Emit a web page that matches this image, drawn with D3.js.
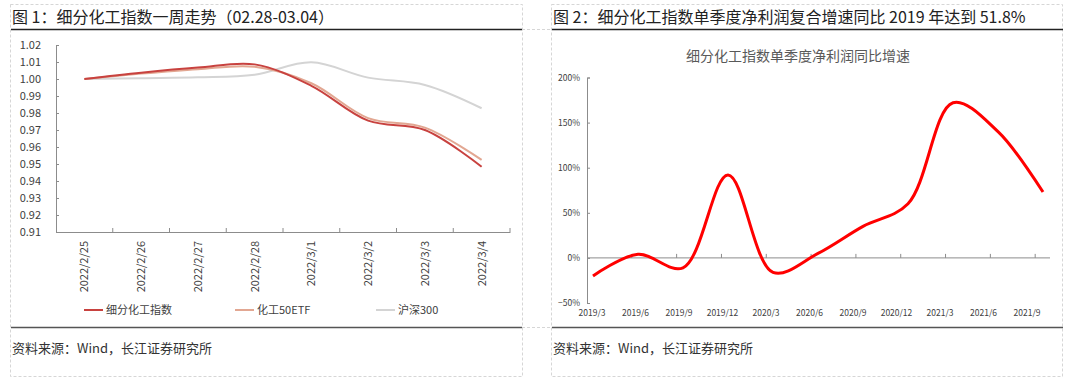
<!DOCTYPE html>
<html>
<head>
<meta charset="utf-8">
<script src="https://cdn.jsdelivr.net/npm/d3@7"></script>
<style>
  body { margin: 0; background: #fff; }
  text { font-family: "Noto Sans CJK SC", "Liberation Sans", sans-serif; }
</style>
</head>
<body>
<svg id="chart" width="1080" height="386"></svg>
<script>
// Figure 1 data
const dates = ["2022/2/25", "2022/2/26", "2022/2/27", "2022/2/28", "2022/3/1", "2022/3/2", "2022/3/3", "2022/3/4"];
const chemIndex = [1.000, 1.0037, 1.0067, 1.0086, 0.9960, 0.9755, 0.9700, 0.9484];
const chemEtf = [1.000, 1.0032, 1.0058, 1.0072, 0.9975, 0.9770, 0.9714, 0.9524];
const hs300 = [1.000, 1.0005, 1.0010, 1.0025, 1.0098, 1.0008, 0.9965, 0.9828];
const yTicks1 = [0.91, 0.92, 0.93, 0.94, 0.95, 0.96, 0.97, 0.98, 0.99, 1.00, 1.01, 1.02];
const series1 = [
  { name: "细分化工指数", values: chemIndex, color: "#C8423F" },
  { name: "化工50ETF", values: chemEtf, color: "#E2A792" },
  { name: "沪深300", values: hs300, color: "#D4D4D4" }
];

// Figure 2 data
const quarters = ["2019/3", "2019/6", "2019/9", "2019/12", "2020/3", "2020/6", "2020/9", "2020/12", "2021/3", "2021/6", "2021/9"];
const profitGrowth = [-0.20, 0.04, -0.11, 0.92, -0.16, 0.05, 0.35, 0.60, 1.72, 1.40, 0.73];
const yTicks2 = [-0.5, 0, 0.5, 1, 1.5, 2];

const svg = d3.select("#chart");
const axisColor = "#8C8C8C";

// ---- panel frames ----
const frame = svg.append("g").attr("fill", "none").attr("stroke", "#D6D6D6").attr("stroke-dasharray", "3,2");
frame.append("rect").attr("x", 10.5).attr("y", 4.5).attr("width", 512).attr("height", 372);
frame.append("rect").attr("x", 551.5).attr("y", 4.5).attr("width", 511).attr("height", 372);
frame.append("line").attr("x1", 522).attr("x2", 552).attr("y1", 29.5).attr("y2", 29.5);
frame.append("line").attr("x1", 522).attr("x2", 552).attr("y1", 327.5).attr("y2", 327.5);

[[11, 522], [552, 1063]].forEach(([a, b]) => {
  svg.append("line").attr("x1", a).attr("x2", b).attr("y1", 29.5).attr("y2", 29.5)
    .attr("stroke", "#222").attr("stroke-width", 1.3);
  svg.append("line").attr("x1", a).attr("x2", b).attr("y1", 327.5).attr("y2", 327.5)
    .attr("stroke", "#555").attr("stroke-width", 1.3);
});

svg.append("text").attr("x", 12).attr("y", 23).attr("font-size", 16).attr("fill", "#222")
  .text("图 1：细分化工指数一周走势（02.28-03.04）");
svg.append("text").attr("x", 553).attr("y", 23).attr("font-size", 16).attr("fill", "#222")
  .text("图 2：细分化工指数单季度净利润复合增速同比 2019 年达到 51.8%");
svg.append("text").attr("x", 12).attr("y", 353).attr("font-size", 13).attr("fill", "#333")
  .text("资料来源：Wind，长江证券研究所");
svg.append("text").attr("x", 553).attr("y", 353).attr("font-size", 13).attr("fill", "#333")
  .text("资料来源：Wind，长江证券研究所");

// ---- Figure 1 ----
const x1 = d3.scaleBand().domain(dates).range([56, 510]);
const y1 = d3.scaleLinear().domain([0.91, 1.02]).range([232, 45]);
const g1 = svg.append("g");

const yAxis1 = g1.append("g").attr("transform", "translate(56,0)")
  .call(d3.axisLeft(y1).tickValues(yTicks1).tickFormat(d3.format(".2f")).tickSize(-3).tickPadding(15));
yAxis1.selectAll("text").attr("font-size", 11).attr("fill", "#404040");

const xAxis1 = g1.append("g").attr("transform", "translate(0,232)")
  .call(d3.axisBottom(x1).tickSize(0).tickFormat(""));
xAxis1.selectAll(".tick").remove();
xAxis1.selectAll(".tk").data(dates.slice(1).concat(["end"])).enter().append("line")
  .attr("x1", (d, i) => i < dates.length - 1 ? x1(d) : x1.range()[1])
  .attr("x2", (d, i) => i < dates.length - 1 ? x1(d) : x1.range()[1])
  .attr("y1", 0).attr("y2", -4).attr("stroke", axisColor);
[yAxis1, xAxis1].forEach(a => a.selectAll("path, line").attr("stroke", axisColor));

g1.selectAll(".xl").data(dates).enter().append("text")
  .attr("transform", d => `translate(${x1(d) + x1.bandwidth() / 2 + 4},241) rotate(-90)`)
  .attr("text-anchor", "end").attr("font-size", 11).attr("fill", "#404040")
  .text(d => d);

const line1 = d3.line()
  .x((d, i) => x1(dates[i]) + x1.bandwidth() / 2)
  .y(d => y1(d))
  .curve(d3.curveCatmullRom.alpha(0.5));

series1.slice().reverse().forEach(s => {
  g1.append("path").datum(s.values).attr("d", line1)
    .attr("fill", "none").attr("stroke", s.color).attr("stroke-width", 2);
});

const legendX = [84, 235, 376];
const legend = g1.selectAll(".lg").data(series1).enter().append("g")
  .attr("transform", (d, i) => `translate(${legendX[i]},310)`);
legend.append("line").attr("x1", 0).attr("x2", 19).attr("stroke", d => d.color).attr("stroke-width", 2);
legend.append("text").attr("x", 22).attr("dy", "0.35em").attr("font-size", 11).attr("fill", "#404040")
  .text(d => d.name);

// ---- Figure 2 ----
const y2 = d3.scaleLinear().domain([-0.5, 2]).range([303, 77.5]);
const xLine = d3.scalePoint().domain(quarters).range([593, 1043]);
const xTick = d3.scaleBand().domain(quarters).range([587, 1080]);
const xLabel = d3.scalePoint().domain(quarters).range([592, 1027]);
const g2 = svg.append("g");

g2.append("text").attr("x", 798).attr("y", 56).attr("text-anchor", "middle").attr("dy", "0.35em")
  .attr("font-size", 14).attr("fill", "#595959").text("细分化工指数单季度净利润同比增速");

const yAxis2 = g2.append("g").attr("transform", "translate(587,0)")
  .call(d3.axisLeft(y2).tickValues(yTicks2).tickFormat(d3.format(".0%")).tickSize(-3).tickPadding(7));
yAxis2.selectAll("text").attr("font-size", 8.5).attr("fill", "#404040").attr("font-family", "Liberation Sans");
yAxis2.selectAll("path, line").attr("stroke", axisColor);

g2.append("line").attr("x1", 587).attr("x2", 1050).attr("y1", y2(0)).attr("y2", y2(0)).attr("stroke", axisColor);
g2.selectAll(".tk2").data(quarters.slice(1)).enter().append("line")
  .attr("x1", d => xTick(d)).attr("x2", d => xTick(d))
  .attr("y1", y2(0)).attr("y2", y2(0) - 4).attr("stroke", axisColor);

g2.selectAll(".xl2").data(quarters).enter().append("text")
  .attr("x", d => xLabel(d)).attr("y", 316).attr("text-anchor", "middle")
  .attr("font-size", 8.5).attr("fill", "#404040").attr("font-family", "Liberation Sans")
  .text(d => d);

const line2 = d3.line()
  .x((d, i) => xLine(quarters[i]))
  .y(d => y2(d))
  .curve(d3.curveCatmullRom.alpha(0.5));

g2.append("path").datum(profitGrowth).attr("d", line2)
  .attr("fill", "none").attr("stroke", "#FF0000").attr("stroke-width", 3);
</script>
</body>
</html>
